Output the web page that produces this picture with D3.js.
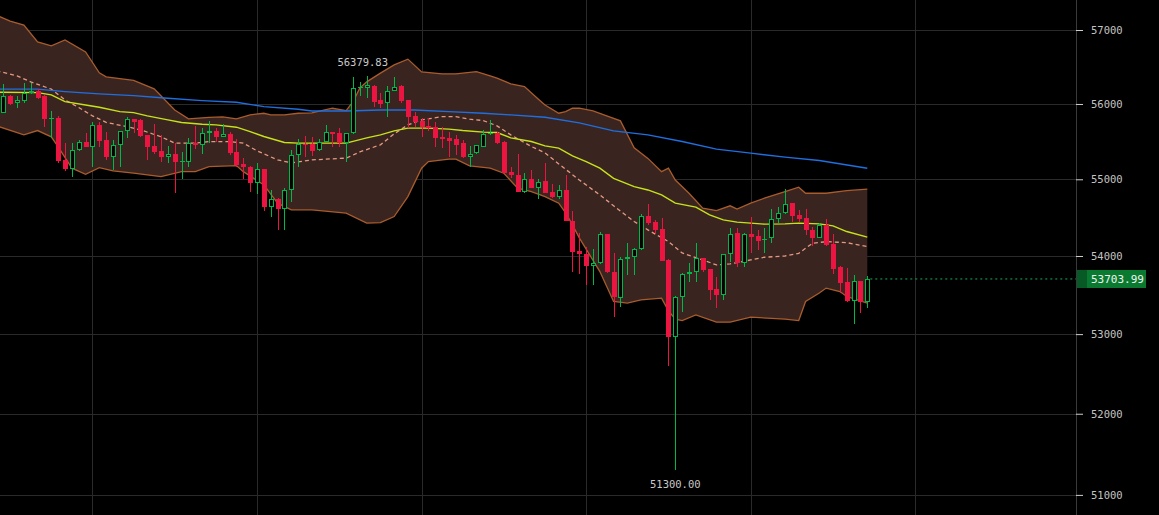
<!DOCTYPE html>
<html>
<head>
<meta charset="utf-8">
<script src="https://cdn.jsdelivr.net/npm/d3@7"></script>
<style>
  html, body { margin: 0; padding: 0; background: #000; }
  svg { display: block; }
  text { font-family: "DejaVu Sans Mono", "Liberation Mono", monospace; }
</style>
</head>
<body>
<svg id="chart" width="1159" height="515"></svg>
<script>
// candles (one per slot, oldest first)
const opens = [55884,56108,56009,56045,56145,56176,56108,55801,55814,55256,55141,55385,55491,55433,55717,55522,55300,55451,55637,55797,
  55783,55584,55442,55376,55300,55332,55226,55234,55478,55459,55611,55637,55566,55601,55358,55203,55167,54948,55137,54635,
  54743,54609,54860,55323,55469,55469,55389,55499,55624,55611,55478,55611,56212,56212,56243,56054,56009,56180,56243,56054,
  55841,55778,55708,55694,55566,55552,55531,55486,55300,55345,55433,55597,55611,55499,55097,55057,54838,55000,54890,54978,
  54830,54765,54860,54460,54065,54026,53876,53907,54283,53799,53459,53958,53991,54087,54525,54439,54352,53949,52967,53479,
  53770,53792,53971,53830,53574,53492,54022,54296,53914,54283,54264,54208,54231,54478,54557,54687,54534,54491,54339,54238,
  54400,54156,53863,53667,53428,53676,53415];
const highs = [56270,56115,56108,56288,56280,56203,56115,55907,55841,55482,55478,55522,55611,55765,55765,55632,55522,55640,55823,55800,
  55797,55590,55734,55588,55446,55478,55366,55544,55708,55677,55770,55685,55730,55624,55531,55279,55170,55212,55140,54860,
  54750,54890,55389,55535,55579,55558,55535,55721,55628,55677,55615,56361,56293,56379.83,56250,56145,56247,56361,56250,56060,
  55898,55810,55810,55761,55690,55632,55588,55522,55442,55455,55655,55787,55620,55505,55167,55336,55088,55123,55000,55220,
  54939,54926,55057,54590,54296,54121,54087,54317,54290,54043,53991,54165,54100,54543,54674,54469,54491,53955,53485,53775,
  53907,54165,53975,53835,53735,54030,54361,54361,54304,54512,54339,54361,54609,54643,54870,54695,54600,54609,54382,54426,
  54486,54283,53870,53843,53757,53680,53744];
const lows = [55880,55987,55947,56018,56140,56072,55694,55548,55220,55110,55026,55380,55430,55167,55425,55256,55123,55167,55544,55619,
  55558,55256,55332,55234,55212,54817,55000,55167,55398,55332,55478,55491,55563,55323,55167,55000,54838,54804,54590,54512,
  54339,54339,54708,55167,55300,55313,55380,55491,55433,55433,55234,55605,56112,56077,55964,55943,55831,56175,56009,55677,
  55698,55566,55645,55425,55412,55292,55323,55279,55159,55340,55430,55590,55469,55080,55013,54835,54825,54883,54739,54820,
  54752,54739,54455,53799,53770,53629,53629,53900,53779,53223,53344,53757,53757,54080,54404,54287,53930,52591,51300,53287,
  53671,53671,53799,53437,53331,53437,53927,53863,53863,54035,54078,54043,54173,54426,54550,54447,54439,54274,54130,54230,
  54130,53766,53530,53415,53130,53274,53331];
const closes = [56108,56000,56050,56145,56180,56085,55801,55810,55247,55141,55385,55491,55433,55717,55512,55300,55451,55637,55797,55765,
  55579,55433,55366,55300,55332,55234,55243,55478,55459,55611,55637,55566,55597,55353,55190,55167,54948,55133,54643,54743,
  54609,54860,55323,55469,55455,55380,55499,55624,55601,55478,55611,56212,56226,56257,56031,55996,56180,56234,56040,55831,
  55765,55698,55677,55542,55535,55512,55451,55292,55332,55451,55597,55619,55486,55088,55053,54838,55000,54890,54969,54825,
  54765,54860,54460,54056,54022,53876,53907,54283,53799,53479,53958,53991,54087,54525,54434,54339,53936,52960,53479,53770,
  53792,53971,53821,53565,53492,54022,54283,53914,54283,54251,54199,54221,54478,54557,54674,54521,54482,54339,54238,54400,
  54143,53834,53658,53424,53676,53415,53703.99];

// indicator lines, sampled as [slot, price]; slot -1 is the bar just left of the view
const bbUpper = [[-1,57202],[1,57121],[3,57067],[5,56838],[7,56784],[9,56865],[12,56702],[14,56419],[15,56365],[19,56317],
  [22,56203],[25,55920],[27,55801],[30,55821],[32,55827],[34,55801],[36,55854],[38,55876],[39,55854],[41,55854],[43,55876],
  [45,55880],[48,55943],[50,55911],[51,56031],[52,56216],[53,56297],[55,56415],[57,56527],[59,56604],[61,56432],[64,56405],
  [66,56405],[69,56436],[71,56378],[72,56347],[74,56270],[76,56234],[78,56068],[79,55987],[81,55876],[82,55898],[83,55943],
  [84,55943],[86,55907],[88,55841],[90,55774],[92,55416],[94,55276],[96,55101],[97,55146],[98,54991],[100,54817],[102,54622],
  [104,54590],[106,54652],[107,54609],[109,54687],[111,54752],[114,54838],[116,54896],[117,54817],[120,54817],[123,54851],[126,54870]];
const bbLower = [[-1,55708],[3,55588],[5,55645],[7,55562],[8,55429],[10,55146],[12,55066],[14,55154],[16,55110],[19,55080],
  [23,55034],[26,55101],[28,55101],[30,55167],[34,55181],[35,55101],[38,54926],[40,54687],[42,54600],[45,54600],[50,54557],
  [53,54426],[55,54434],[57,54512],[59,54773],[61,55146],[62,55234],[65,55265],[66,55265],[68,55176],[71,55146],[73,55080],
  [75,54883],[77,54838],[79,54773],[81,54687],[82,54560],[83,54404],[84,54234],[87,53799],[89,53415],[91,53395],[93,53437],
  [96,53459],[97,53296],[98,53190],[99,53172],[101,53245],[104,53152],[106,53152],[109,53216],[114,53190],[116,53172],
  [117,53415],[119,53523],[120,53587],[122,53543],[123,53479],[126,53395]];
const bbMiddle = [[-1,56446],[2,56378],[4,56297],[7,56199],[9,56054],[11,55953],[13,55841],[15,55754],[18,55698],[20,55655],
  [23,55562],[25,55478],[28,55478],[30,55499],[33,55499],[35,55478],[37,55376],[40,55256],[42,55216],[45,55256],[50,55279],
  [52,55362],[55,55455],[57,55601],[59,55721],[61,55787],[64,55831],[66,55831],[68,55797],[70,55778],[72,55708],[74,55588],
  [77,55433],[79,55349],[81,55203],[84,54991],[87,54795],[89,54652],[92,54447],[94,54339],[97,54186],[99,54039],[102,53949],
  [104,53885],[106,53898],[109,53949],[111,53984],[114,54000],[116,54035],[118,54165],[120,54186],[123,54173],[126,54121]];
const maMid = [[-1,56158],[5,56153],[7,56122],[9,56031],[12,55987],[14,55956],[17,55898],[19,55884],[21,55841],[24,55787],
  [26,55752],[29,55730],[31,55721],[34,55690],[36,55632],[38,55566],[41,55486],[43,55478],[50,55478],[53,55548],[55,55588],
  [57,55641],[59,55677],[62,55677],[65,55664],[67,55645],[70,55624],[72,55619],[74,55548],[77,55499],[79,55442],[81,55412],
  [83,55309],[85,55234],[87,55146],[89,55013],[92,54903],[94,54860],[96,54795],[98,54687],[101,54635],[103,54534],[105,54469],
  [107,54439],[109,54426],[111,54413],[114,54417],[116,54426],[119,54417],[121,54391],[123,54317],[126,54244]];
const maSlow = [[-1,56199],[5,56199],[9,56166],[14,56135],[19,56112],[24,56077],[29,56045],[34,56023],[38,55964],[43,55929],
  [45,55907],[50,55907],[55,55920],[60,55920],[65,55898],[70,55876],[74,55854],[79,55823],[84,55748],[89,55641],[94,55588],
  [99,55499],[104,55398],[109,55345],[114,55292],[119,55247],[126,55146]];

const priceTicks = [51000, 52000, 53000, 54000, 55000, 56000, 57000];
const daySlots = [13, 37, 61, 85, 109, 133];

const W = 1159, H = 515, axisX = 1076;
const svg = d3.select('#chart');
svg.append('rect').attr('width', W).attr('height', H).attr('fill', '#000');

const x = d3.scaleLinear().domain([0, 126]).range([3.3, 867.3]);
const y = d3.scaleLog().domain([51000, 57000]).range([494.9, 30]);

svg.append('defs').append('clipPath').attr('id', 'plot')
  .append('rect').attr('width', axisX).attr('height', H);

// grid
const grid = svg.append('g').attr('stroke', '#2a2a2a').attr('stroke-width', 1).attr('shape-rendering', 'crispEdges');
grid.selectAll('.h').data(priceTicks).join('line').attr('class', 'h')
  .attr('x1', 0).attr('x2', axisX).attr('y1', d => Math.round(y(d)) + 0.5).attr('y2', d => Math.round(y(d)) + 0.5);
grid.selectAll('.v').data(daySlots).join('line').attr('class', 'v')
  .attr('x1', d => Math.round(x(d)) + 0.5).attr('x2', d => Math.round(x(d)) + 0.5).attr('y1', 0).attr('y2', H);

const plot = svg.append('g').attr('clip-path', 'url(#plot)');
const line = d3.line().x(d => x(d[0])).y(d => y(d[1]));

// bollinger fill: upper forward, lower back
const ring = bbUpper.concat(bbLower.slice().reverse());
plot.append('path').attr('d', line(ring) + 'Z').attr('fill', '#3a2420');
plot.append('path').attr('d', line(bbUpper)).attr('fill', 'none').attr('stroke', '#a95c2c').attr('stroke-width', 1.3);
plot.append('path').attr('d', line(bbLower)).attr('fill', 'none').attr('stroke', '#a95c2c').attr('stroke-width', 1.3);
plot.append('path').attr('d', line(bbMiddle)).attr('fill', 'none').attr('stroke', '#e49a82')
  .attr('stroke-width', 1.3).attr('stroke-dasharray', '4,3');
plot.append('path').attr('d', line(maSlow)).attr('fill', 'none').attr('stroke', '#1f6fe0').attr('stroke-width', 1.4);
plot.append('path').attr('d', line(maMid)).attr('fill', 'none').attr('stroke', '#c6e31a').attr('stroke-width', 1.4);

// candles: everything as filled rects so the colours stay solid
const UP = '#00b84a', DOWN = '#ec1440';
const isUp = i => closes[i] >= opens[i];
const bodyTop = i => Math.round(y(Math.max(opens[i], closes[i])));
const bodyBot = i => Math.max(bodyTop(i) + 1, Math.round(y(Math.min(opens[i], closes[i]))));
const cx = i => Math.round(x(i));
const bars = plot.append('g').attr('shape-rendering', 'crispEdges')
  .selectAll('g').data(opens.map((o, i) => i)).join('g');
bars.append('rect')
  .attr('x', i => cx(i)).attr('width', 1)
  .attr('y', i => Math.round(y(highs[i]))).attr('height', i => Math.max(1, Math.round(y(lows[i])) - Math.round(y(highs[i]))))
  .attr('fill', i => isUp(i) ? UP : DOWN);
bars.append('rect')
  .attr('x', i => cx(i) - 2).attr('width', 5)
  .attr('y', bodyTop).attr('height', i => bodyBot(i) - bodyTop(i))
  .attr('fill', i => isUp(i) ? UP : DOWN);
bars.filter(i => isUp(i) && bodyBot(i) - bodyTop(i) > 2).append('rect')
  .attr('x', i => cx(i) - 1).attr('width', 3)
  .attr('y', i => bodyTop(i) + 1).attr('height', i => bodyBot(i) - bodyTop(i) - 2)
  .attr('fill', '#000');

// high / low labels
const hiIdx = d3.maxIndex(highs), loIdx = d3.minIndex(lows);
svg.append('text').attr('x', x(hiIdx) - 4).attr('y', y(highs[hiIdx]) - 10)
  .attr('text-anchor', 'middle').attr('fill', '#c8c8c8').attr('font-size', 10.5)
  .text(d3.format('.2f')(highs[hiIdx]));
svg.append('text').attr('x', x(loIdx)).attr('y', y(lows[loIdx]) + 18)
  .attr('text-anchor', 'middle').attr('fill', '#c8c8c8').attr('font-size', 10.5)
  .text(d3.format('.2f')(lows[loIdx]));

// price axis
svg.append('line').attr('x1', axisX + 0.5).attr('x2', axisX + 0.5).attr('y1', 0).attr('y2', H)
  .attr('stroke', '#3a3a3a');
const axis = svg.append('g').attr('transform', `translate(${axisX},0)`)
  .call(d3.axisRight(y).tickValues(priceTicks).tickSize(7).tickPadding(8).tickFormat(d3.format('d')));
axis.select('.domain').remove();
axis.selectAll('.tick line').attr('stroke', '#cfcfcf');
axis.selectAll('.tick text').attr('fill', '#c4c4c4').attr('font-size', 10.5)
  .attr('font-family', '"DejaVu Sans Mono", monospace');

// last price marker
const last = closes[closes.length - 1];
const ly = y(last);
svg.append('line').attr('x1', x(126) + 3).attr('x2', axisX).attr('y1', ly).attr('y2', ly)
  .attr('stroke', '#14b05a').attr('stroke-width', 1).attr('stroke-dasharray', '2,3');
svg.append('rect').attr('x', axisX + 1).attr('y', ly - 9).attr('width', 69).attr('height', 18).attr('fill', '#0b7a31');
svg.append('rect').attr('x', axisX + 1).attr('y', ly - 9).attr('width', 10).attr('height', 18).attr('fill', '#075a26');
svg.append('text').attr('x', axisX + 15).attr('y', ly + 4).attr('fill', '#eef7ee').attr('font-size', 11)
  .text(d3.format('.2f')(last));
</script>
</body>
</html>
